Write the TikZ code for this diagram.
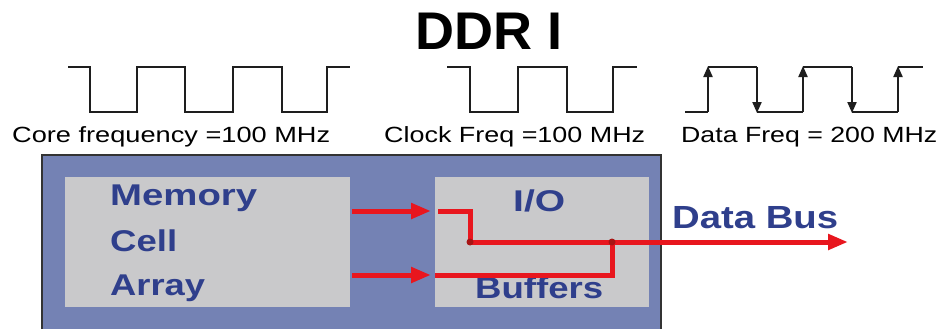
\documentclass[tikz,border=0pt]{standalone}
\usepackage{fontspec}
\setmainfont{Liberation Sans}
\usetikzlibrary{arrows.meta}
\definecolor{outerblue}{HTML}{7482B4}
\definecolor{boxgrey}{HTML}{C9C9CB}
\definecolor{textblue}{HTML}{2F3F8C}
\definecolor{busred}{HTML}{E8161E}
\definecolor{dotred}{HTML}{A81414}
\definecolor{wavecol}{HTML}{1E1E1E}
\tikzset{
  wave/.style={draw=wavecol, line width=2pt, line join=miter},
  edgearrow/.style={wave, -{Triangle[length=11pt,width=9pt]}},
  greybox/.style={fill=boxgrey, draw=none, inner sep=0pt, anchor=north west},
  bluetext/.style={text=textblue, inner sep=0pt, anchor=base west, font=\fontsize{30}{30}\selectfont\bfseries},
  freqtext/.style={text=black, inner sep=0pt, anchor=base west, font=\fontsize{22}{22}\selectfont},
  busline/.style={draw=busred, line width=5pt},
  busarrow/.style={busline, -{Triangle[length=20pt,width=15pt]}},
  junction/.style={fill=dotred},
}
\begin{document}
\begin{tikzpicture}[x=1pt,y=-1pt]
\useasboundingbox (0,0) rectangle (942,329);
\fill[white] (0,0) rectangle (942,329);

% title
\node[inner sep=0pt, anchor=base west, font=\fontsize{53}{53}\selectfont\bfseries] (title) at (415,50) {\resizebox{147pt}{\height}{DDR I}};

% waveforms
\draw[wave] (68,67) -| (90,112) -| (137,67) -| (185,112) -| (233,67) -| (282,112) -| (327,67) -- (350,67);
\draw[wave] (447,67) -| (470,112) -| (518,67) -| (567,112) -| (613,67) -- (637,67);
\draw[wave] (685,112) -- (708,112);
\draw[wave] (708,67) -- (757,67);
\draw[wave] (757,112) -- (803,112);
\draw[wave] (803,67) -- (852,67);
\draw[wave] (852,112) -- (898,112);
\draw[wave] (898,67) -- (923,67);
\foreach \x in {708,803,898} \draw[edgearrow] (\x,112) -- (\x,66);
\foreach \x in {757,852} \draw[edgearrow] (\x,67) -- (\x,113);

% frequency labels
\node[freqtext] (corelbl) at (12,142) {\resizebox{318pt}{\height}{Core frequency =100 MHz}};
\node[freqtext] (clklbl) at (384,142) {\resizebox{261pt}{\height}{Clock Freq =100 MHz}};
\node[freqtext] (datalbl) at (681,142) {\resizebox{256pt}{\height}{Data Freq = 200 MHz}};

% outer chip box
\fill[outerblue] (42,155) rectangle (661,335);
\draw[draw=black!80, line width=1.5pt] (42,335) -- (42,155) -- (661,155) -- (661,335);

% inner boxes
\node[greybox, minimum width=285pt, minimum height=130pt] (mem) at (65,177) {};
\node[greybox, minimum width=214pt, minimum height=130pt] (io) at (435,177) {};

% texts
\node[bluetext] (t1) at (110,205) {\resizebox{147pt}{\height}{Memory}};
\node[bluetext] (t2) at (110,251) {\resizebox{67pt}{\height}{Cell}};
\node[bluetext] (t3) at (110,295) {\resizebox{95pt}{\height}{Array}};
\node[bluetext] (t4) at (513,211) {\resizebox{52pt}{\height}{I/O}};
\node[bluetext] (t5) at (475,298) {\resizebox{128pt}{\height}{Buffers}};
\node[bluetext, font=\fontsize{32}{32}\selectfont\bfseries] (t6) at (672,228) {\resizebox{166pt}{\height}{Data Bus}};

% bus paths
\coordinate (top) at (0,211);
\coordinate (bot) at (0,275);
\coordinate (j1) at (470,242);
\coordinate (j2) at (612,242);
\coordinate (busend) at (848,242);

\draw[busarrow, shorten >=4pt] ([xshift=2pt]mem.east |- top) -- (io.west |- top);
\draw[busarrow, shorten >=4pt] ([xshift=2pt]mem.east |- bot) -- (io.west |- bot);
\draw[busline] ([xshift=3pt]io.west |- top) -| (j1);
\draw[busline] (io.west |- bot) -| (j2);
\draw[busarrow] (j1) -- (busend);
\fill[junction] (j1) circle[radius=3.5pt];
\fill[junction] (j2) circle[radius=3.5pt];
\end{tikzpicture}
\end{document}
